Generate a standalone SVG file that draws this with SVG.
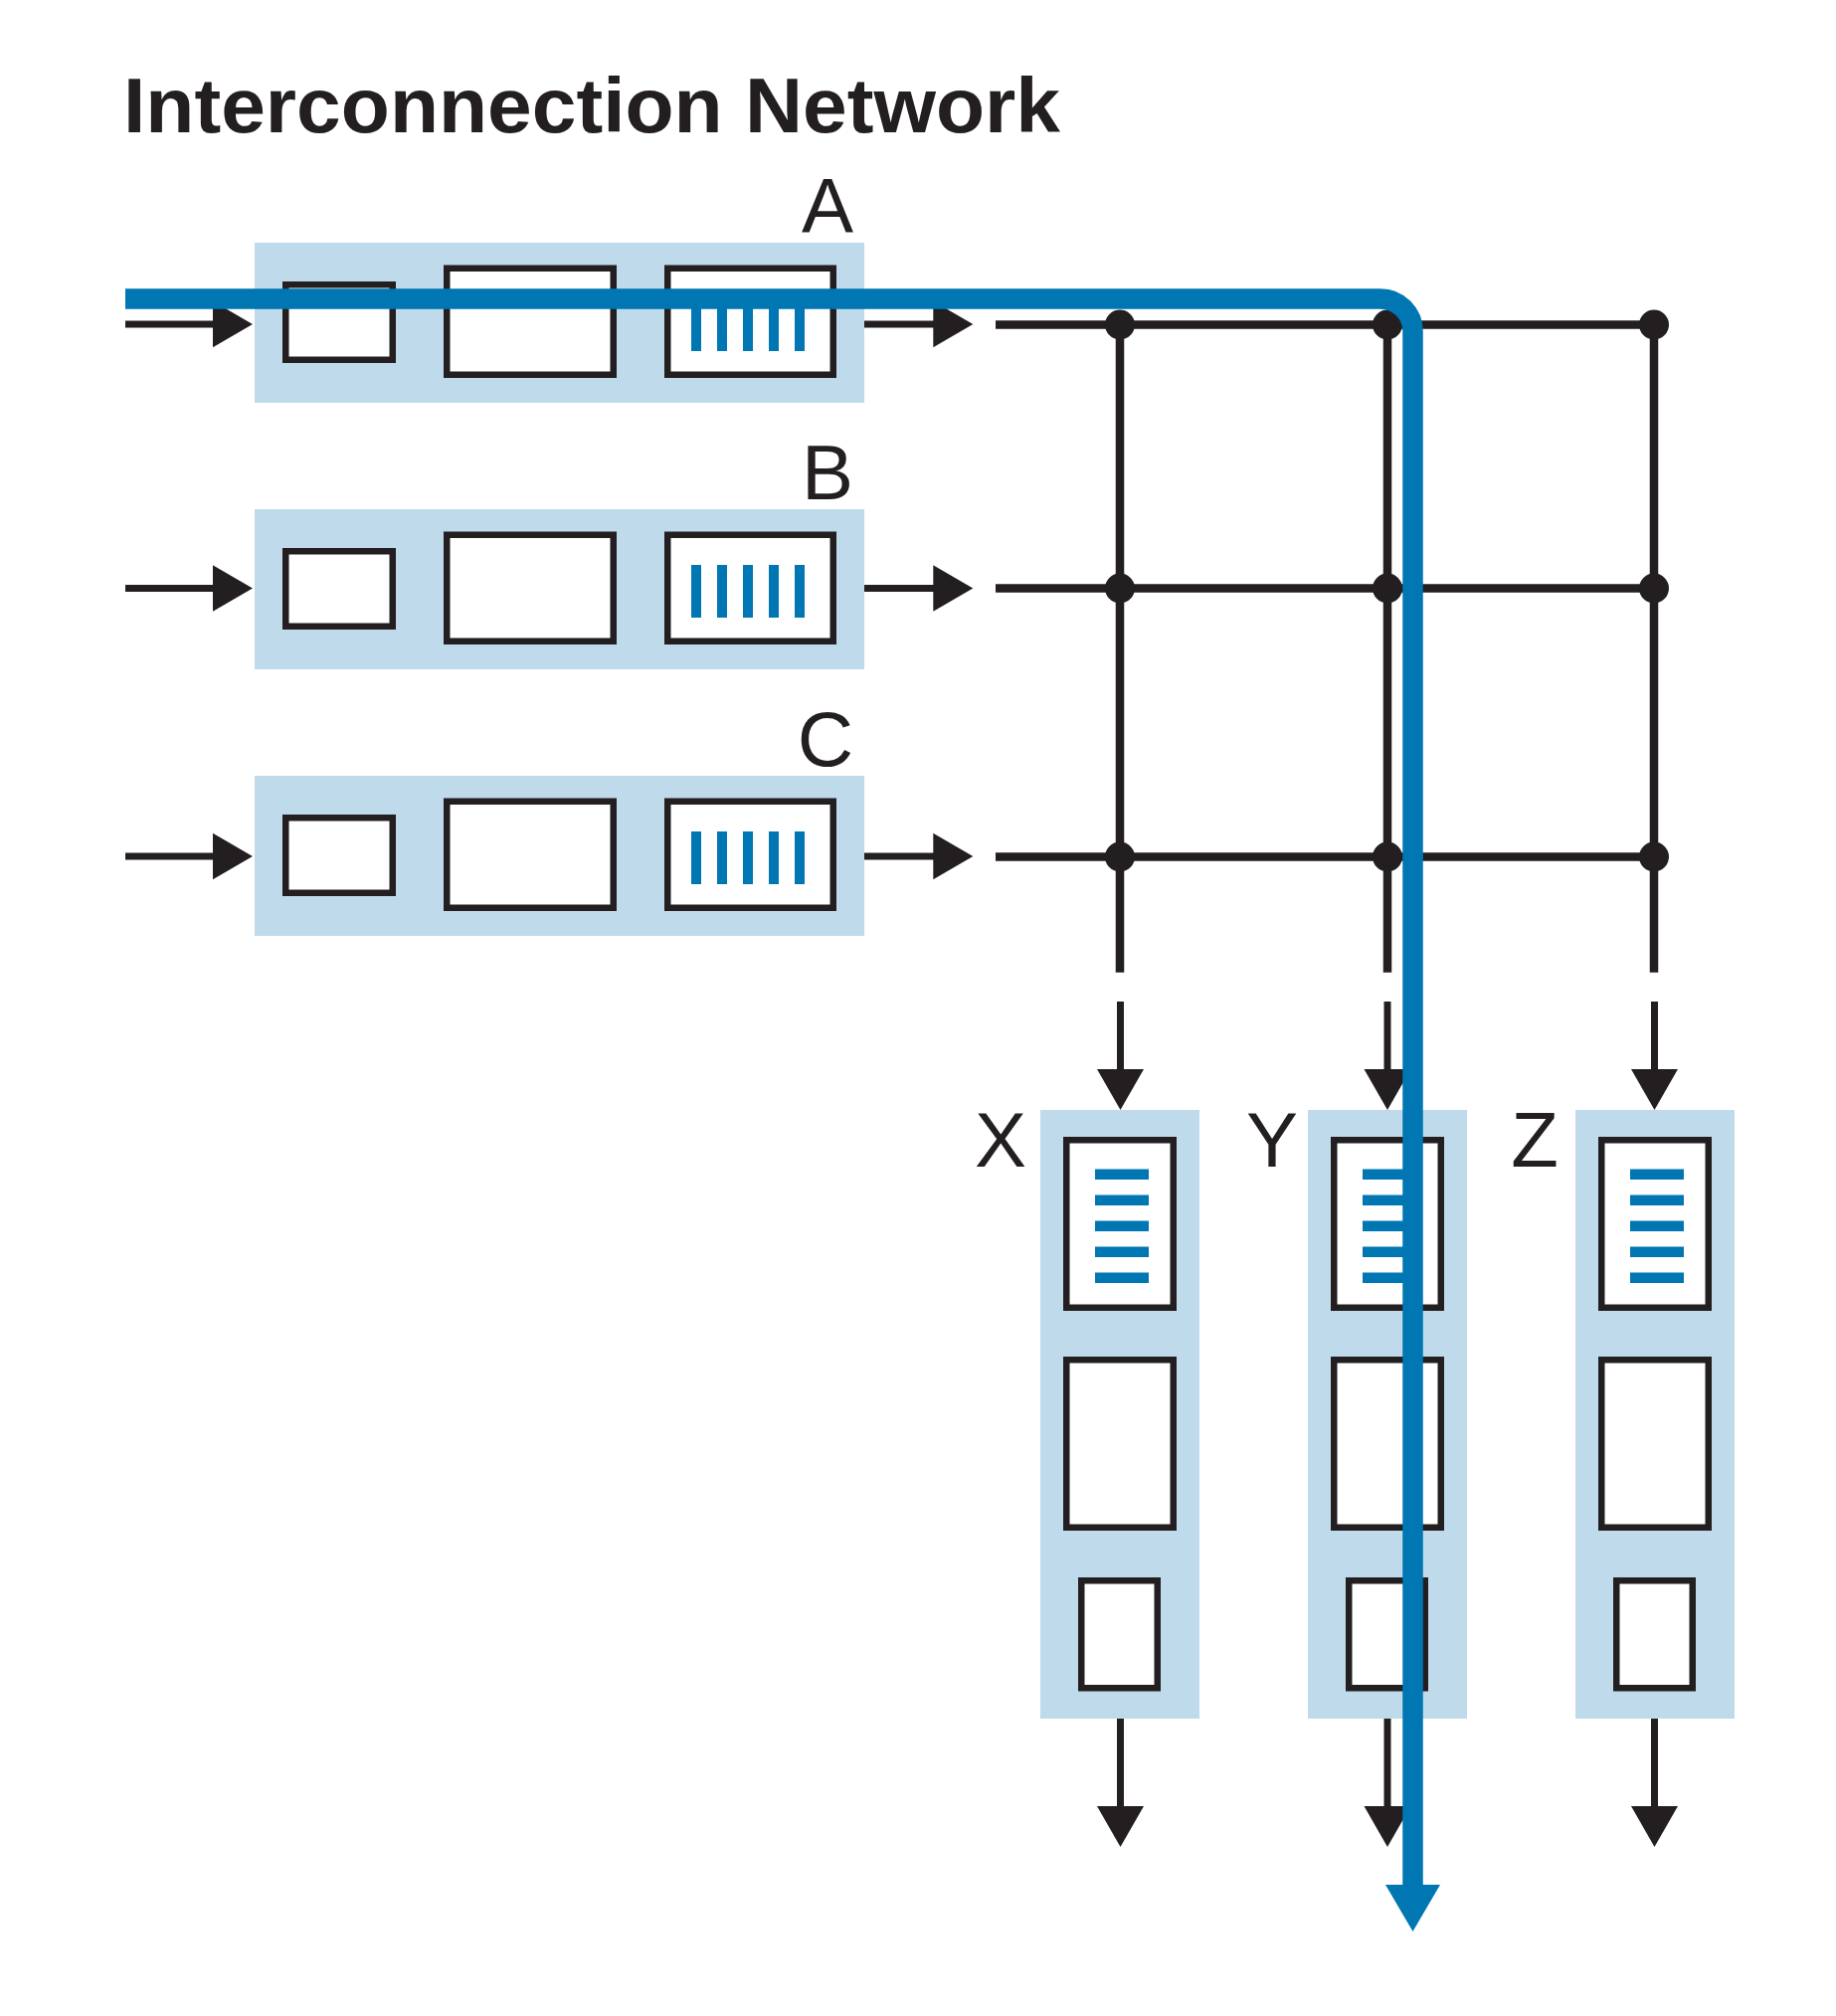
<svg xmlns="http://www.w3.org/2000/svg" width="1846" height="2027" viewBox="0 0 1846 2027">
<style>
.band{fill:#bfdaeb}
.box{fill:#ffffff;stroke:#231f20;stroke-width:6.5}
.bar{fill:#0077b2}
.grid{stroke:#231f20;stroke-width:8.5;fill:none}
.arr{stroke:#231f20;stroke-width:7;fill:none}
.head{fill:#231f20}
.dot{fill:#231f20}
.lbl{font-family:"Liberation Sans",Arial,sans-serif;font-size:78px;fill:#231f20}
.title{font-family:"Liberation Sans",Arial,sans-serif;font-size:78px;font-weight:bold;fill:#231f20}
.route{stroke:#0077b2;stroke-width:20.5;fill:none}
</style>
<defs>
<g id="rowq">
<rect class="band" x="256" y="244" width="613" height="161"/>
<rect class="box" x="287.25" y="286.25" width="107.5" height="75.5"/>
<rect class="box" x="449.25" y="269.75" width="167.5" height="107"/>
<rect class="box" x="671.25" y="269.75" width="166.5" height="107"/>
<rect class="bar" x="695" y="300" width="10" height="53"/>
<rect class="bar" x="721" y="300" width="10" height="53"/>
<rect class="bar" x="747" y="300" width="10" height="53"/>
<rect class="bar" x="773" y="300" width="10" height="53"/>
<rect class="bar" x="799" y="300" width="10" height="53"/>
</g>
<g id="colq">
<rect class="band" x="1046" y="1116" width="160" height="612"/>
<rect class="box" x="1072.25" y="1146.25" width="107.5" height="168.5"/>
<rect class="bar" x="1101" y="1175.5" width="54" height="10.5"/>
<rect class="bar" x="1101" y="1201.5" width="54" height="10.5"/>
<rect class="bar" x="1101" y="1227.5" width="54" height="10.5"/>
<rect class="bar" x="1101" y="1253.5" width="54" height="10.5"/>
<rect class="bar" x="1101" y="1279.5" width="54" height="10.5"/>
<rect class="box" x="1072.25" y="1367.25" width="107.5" height="168.5"/>
<rect class="box" x="1087.25" y="1589.25" width="76.5" height="108"/>
</g>
</defs>

<text class="title" x="124" y="133" textLength="942" lengthAdjust="spacingAndGlyphs">Interconnection Network</text>

<g id="node-A">
<use href="#rowq"/>
<text class="lbl" x="858" y="234" text-anchor="end">A</text>
</g>
<g id="node-B">
<use href="#rowq" transform="translate(0,268)"/>
<text class="lbl" x="858" y="502" text-anchor="end">B</text>
</g>
<g id="node-C">
<use href="#rowq" transform="translate(0,536)"/>
<text class="lbl" x="858" y="770" text-anchor="end">C</text>
</g>
<g id="node-X">
<use href="#colq"/>
<text class="lbl" x="1032" y="1173" text-anchor="end">X</text>
</g>
<g id="node-Y">
<use href="#colq" transform="translate(269,0)"/>
<text class="lbl" x="1305" y="1173" text-anchor="end">Y</text>
</g>
<g id="node-Z">
<use href="#colq" transform="translate(538,0)"/>
<text class="lbl" x="1567" y="1173" text-anchor="end">Z</text>
</g>

<g id="connectors">
<line class="arr" x1="126" y1="326" x2="216" y2="326"/>
<polygon class="head" points="214,302.7 254,326 214,349.3"/>
<line class="arr" x1="126" y1="591.5" x2="216" y2="591.5"/>
<polygon class="head" points="214,568.2 254,591.5 214,614.8"/>
<line class="arr" x1="126" y1="861" x2="216" y2="861"/>
<polygon class="head" points="214,837.7 254,861 214,884.3"/>
<line class="arr" x1="869" y1="326" x2="940" y2="326"/>
<polygon class="head" points="938.3,302.7 978.3,326 938.3,349.3"/>
<line class="arr" x1="869" y1="591.5" x2="940" y2="591.5"/>
<polygon class="head" points="938.3,568.2 978.3,591.5 938.3,614.8"/>
<line class="arr" x1="869" y1="861" x2="940" y2="861"/>
<polygon class="head" points="938.3,837.7 978.3,861 938.3,884.3"/>
<g id="crossbar">
<line class="grid" x1="1001" y1="326.5" x2="1663" y2="326.5"/>
<line class="grid" x1="1001" y1="591.5" x2="1663" y2="591.5"/>
<line class="grid" x1="1001" y1="861.5" x2="1663" y2="861.5"/>
<line class="grid" x1="1126" y1="326.5" x2="1126" y2="977.7"/>
<line class="grid" x1="1395" y1="326.5" x2="1395" y2="977.7"/>
<line class="grid" x1="1663" y1="326.5" x2="1663" y2="977.7"/>
<circle class="dot" cx="1126" cy="326.5" r="15"/>
<circle class="dot" cx="1395" cy="326.5" r="15"/>
<circle class="dot" cx="1663" cy="326.5" r="15"/>
<circle class="dot" cx="1126" cy="591.5" r="15"/>
<circle class="dot" cx="1395" cy="591.5" r="15"/>
<circle class="dot" cx="1663" cy="591.5" r="15"/>
<circle class="dot" cx="1126" cy="861.5" r="15"/>
<circle class="dot" cx="1395" cy="861.5" r="15"/>
<circle class="dot" cx="1663" cy="861.5" r="15"/>
</g>
<line class="arr" x1="1126.5" y1="1007" x2="1126.5" y2="1077"/>
<polygon class="head" points="1103,1075 1150,1075 1126.5,1116"/>
<line class="arr" x1="1395" y1="1007" x2="1395" y2="1077"/>
<polygon class="head" points="1371.5,1075 1418.5,1075 1395,1116"/>
<line class="arr" x1="1663.5" y1="1007" x2="1663.5" y2="1077"/>
<polygon class="head" points="1640,1075 1687,1075 1663.5,1116"/>
<line class="arr" x1="1126.5" y1="1728" x2="1126.5" y2="1818"/>
<polygon class="head" points="1103,1816 1150,1816 1126.5,1857"/>
<line class="arr" x1="1395" y1="1728" x2="1395" y2="1818"/>
<polygon class="head" points="1371.5,1816 1418.5,1816 1395,1857"/>
<line class="arr" x1="1663.5" y1="1728" x2="1663.5" y2="1818"/>
<polygon class="head" points="1640,1816 1687,1816 1663.5,1857"/>
<path class="route" d="M126,300.5 H1388 A32.5,32.5 0 0 1 1420.5,333 V1897"/>
<polygon fill="#0077b2" points="1393,1895 1448,1895 1420.5,1942"/>
</g>
</svg>
